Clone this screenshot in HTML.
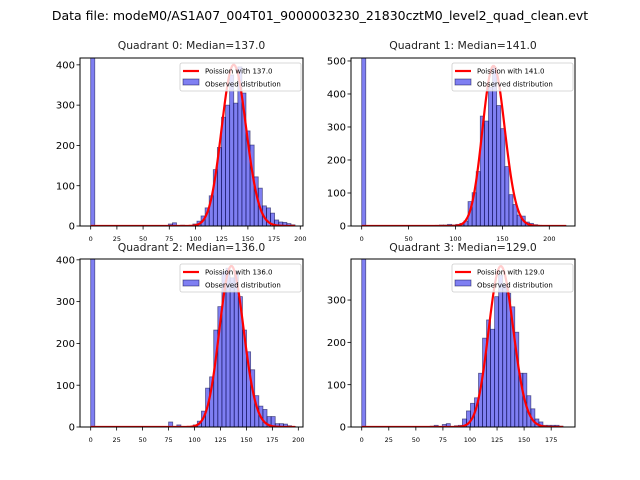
<!DOCTYPE html>
<html><head><meta charset="utf-8"><style>
body{margin:0;background:#fff;width:640px;height:480px;overflow:hidden}
svg{display:block;font-family:"DejaVu Sans","Liberation Sans",sans-serif}
</style></head><body>
<svg id="fig" width="640" height="480" xmlns="http://www.w3.org/2000/svg">
<rect width="640" height="480" fill="#fff"/>
<text x="320" y="20" text-anchor="middle" font-size="12.5" fill="#000">Data file: modeM0/AS1A07_004T01_9000003230_21830cztM0_level2_quad_clean.evt</text>
</svg>
<script>
// Data per quadrant
const medians = [137.0, 141.0, 136.0, 129.0];
const maxValues = [195, 218, 197.5, 186];
const peakHeights = [400, 485, 385, 380];
const yLimits = [417, 509, 402, 397];
const yTicks0 = [0,100,200,300,400];
const yTicks1 = [0,100,200,300,400,500];
const yTicks2 = [0,100,200,300,400];
const yTicks3 = [0,100,200,300];
const xTicks0 = [0,25,50,75,100,125,150,175,200];
const xTicks1 = [0,50,100,150,200];
const xTicks2 = [0,25,50,75,100,125,150,175,200];
const xTicks3 = [0,25,50,75,100,125,150,175];
const xLimits = [[-10.2,202.6],[-11.4,227.4],[-10.3,204.5],[-9.9,197]];
// counts for 50 bins (index 0..49)
const counts0 = [1000,0,0,0,0,0,0,0,0,0,0,0,0,0,0,0,0,0,0,5,8,0,2,0,0,5,12,25,45,75,140,195,270,300,375,305,395,330,236,201,122,94,50,45,32,15,10,9,6,3];
const counts1 = [1000,0,0,0,0,0,0,0,0,0,0,0,0,0,0,0,0,0,2,3,3,5,3,5,8,15,74,101,165,333,318,420,480,365,295,180,95,65,33,30,12,8,4,2,1,1,1,1,1,1];
const counts2 = [1000,0,0,0,0,0,0,0,0,0,0,0,0,0,0,0,0,0,0,12,0,5,0,0,0,5,14,38,93,120,232,288,372,380,357,372,312,232,180,137,75,50,42,25,25,8,8,7,3,1];
const counts3 = [1000,0,0,0,0,0,0,0,0,0,0,0,0,0,0,0,0,2,4,0,6,8,0,3,4,19,38,56,69,127,210,253,231,308,359,337,316,284,224,127,127,74,43,19,12,4,4,4,4,2];

const allCounts=[counts0,counts1,counts2,counts3];
const allYTicks=[yTicks0,yTicks1,yTicks2,yTicks3];
const allXTicks=[xTicks0,xTicks1,xTicks2,xTicks3];
const boxes=[[80,58,303,226],[351,58,575,226],[80,259,303,427],[351,259,575,427]];
const titleY=[49,49,251,251];
const NS="http://www.w3.org/2000/svg";
const fig=document.getElementById('fig');
function mk(tag,attrs,parent){const e=document.createElementNS(NS,tag);for(const k in attrs)e.setAttribute(k,attrs[k]);(parent||fig).appendChild(e);return e;}
function lgam(n){let s=0;for(let i=2;i<=n;i++)s+=Math.log(i);return s;}
function pmf(k,m){return Math.exp(k*Math.log(m)-m-lgam(k));}

for(let q=0;q<4;q++){
  const [L,T,R,B]=boxes[q];
  const [x0,x1]=xLimits[q];
  const sx=v=>L+(v-x0)/(x1-x0)*(R-L);
  const sy=v=>B-v/yLimits[q]*(B-T);
  const g=mk('g',{});
  
  
  const cp=mk('clipPath',{id:'c'+q},g);
  mk('rect',{x:L,y:T,width:R-L,height:B-T},cp);
  const t=mk('text',{x:(L+R)/2,y:titleY[q],'text-anchor':'middle','font-size':'10.8',fill:'#222'},g);
  t.textContent='Quadrant '+q+': Median='+medians[q].toFixed(1);
  
  
  const bars=mk('g',{'clip-path':'url(#c'+q+')'},g);
  const w=maxValues[q]/50;
  allCounts[q].forEach((c,i)=>{
    if(c<=0)return;
    const r=mk('rect',{x:sx(i*w),y:sy(c),width:sx((i+1)*w)-sx(i*w),height:sy(0)-sy(c),fill:'rgba(0,0,230,0.5)',stroke:'rgba(0,0,60,0.55)','stroke-width':'0.8'},bars);
    
    
  });
  const m=medians[q];const scale=peakHeights[q]/pmf(Math.round(m),m);
  let d='';
  for(let k=0;k<=Math.floor(maxValues[q]);k++){d+=(k?'L':'M')+sx(k).toFixed(2)+','+sy(scale*pmf(k,m)).toFixed(2);}
  const pl=mk('path',{d:d,fill:'none',stroke:'#ff0000','stroke-width':'2.2','clip-path':'url(#c'+q+')'},g);
  
  
  mk('rect',{x:L,y:T,width:R-L,height:B-T,fill:'none',stroke:'#000','stroke-width':'1'},g);
  allYTicks[q].forEach(v=>{
    mk('line',{x1:L-3.5,x2:L,y1:sy(v),y2:sy(v),stroke:'#000','stroke-width':'0.8'},g);
    const tt=mk('text',{x:L-5,y:sy(v)+3.6,'text-anchor':'end','font-size':'10',fill:'#000'},g);
    tt.textContent=v;
    
    
  });
  allXTicks[q].forEach(v=>{
    mk('line',{x1:sx(v),x2:sx(v),y1:B,y2:B+3.5,stroke:'#000','stroke-width':'0.8'},g);
    const tt=mk('text',{x:sx(v),y:B+15,'text-anchor':'middle','font-size':'6.5',fill:'#000'},g);
    tt.textContent=v;
    
    
  });
  const lg=mk('g',{},g);
  
  
  const lx=R-123, ly=T+5;
  mk('rect',{x:lx,y:ly,width:121,height:28,rx:2,fill:'rgba(255,255,255,0.8)',stroke:'#ccc','stroke-width':'0.8'},lg);
  mk('line',{x1:lx+3,x2:lx+19,y1:ly+8,y2:ly+8,stroke:'#ff0000','stroke-width':'2.2'},lg);
  const l1=mk('text',{x:lx+25,y:ly+10.5,'font-size':'7',fill:'#000'},lg);
  l1.textContent='Poission with '+m.toFixed(1);
  mk('rect',{x:lx+3,y:ly+16,width:16,height:6,fill:'rgba(0,0,230,0.5)',stroke:'rgba(0,0,60,0.55)','stroke-width':'0.8'},lg);
  const l2=mk('text',{x:lx+25,y:ly+23.5,'font-size':'7',fill:'#000'},lg);
  l2.textContent='Observed distribution';
}
</script>
</body></html>
